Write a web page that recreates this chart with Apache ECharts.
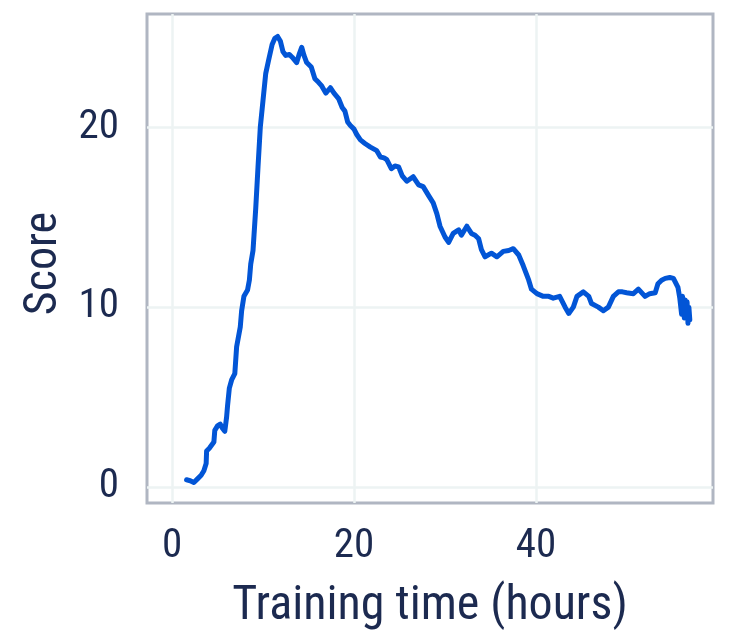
<!DOCTYPE html>
<html>
<head>
<meta charset="utf-8">
<script src="https://cdn.jsdelivr.net/npm/echarts@6/dist/echarts.min.js"></script>
<style>html,body{margin:0;padding:0;background:#fff}#c{width:733px;height:637px}</style>
</head>
<body>
<div id="c"></div>
<script>
const hours = [1.6,2.0,2.4,2.8,3.2,3.5,3.75,3.8,4.1,4.3,4.6,4.7,5.0,5.3,5.5,5.8,6.0,6.1,6.3,6.55,6.9,7.1,7.5,7.65,7.9,8.3,8.5,8.65,8.9,9.2,9.45,9.7,10.0,10.3,10.6,11.0,11.3,11.6,11.9,12.2,12.5,12.9,13.2,13.7,14.0,14.25,14.5,14.8,15.3,15.7,16.1,16.45,16.9,17.4,17.8,18.3,18.7,19.0,19.3,19.6,20.0,20.3,20.7,21.2,21.8,22.5,22.9,23.3,23.6,24.1,24.5,24.9,25.3,25.8,26.5,27.1,27.6,28.2,28.7,29.1,29.45,30.0,30.4,30.9,31.5,31.8,32.4,32.9,33.3,33.7,34.0,34.4,35.1,35.7,36.4,37.0,37.5,38.1,38.6,39.2,39.5,40.1,40.8,41.4,41.9,42.6,43.2,43.6,44.1,44.5,45.2,45.8,46.1,46.85,47.4,47.95,48.5,49.05,49.5,49.96,50.7,51.25,51.98,52.5,53.1,53.4,53.8,54.2,54.7,55.1,55.6,55.8,56.0,56.1,56.3,56.4,56.5,56.6,56.7,56.8,56.9];
const score = [0.4,0.35,0.25,0.45,0.65,0.9,1.3,2.0,2.15,2.1,2.5,3.15,3.4,3.5,3.3,3.1,3.9,4.5,5.5,5.95,6.3,7.8,8.9,9.8,10.6,10.95,11.5,12.4,13.15,15.5,17.8,20.0,21.5,23.0,23.7,24.6,24.95,25.05,24.8,24.2,24.0,24.05,23.9,23.6,24.1,24.45,24.0,23.6,23.35,22.7,22.5,22.3,21.9,22.2,21.9,21.6,21.1,20.9,20.3,20.1,19.9,19.6,19.3,19.1,18.9,18.7,18.35,18.3,18.2,17.7,17.85,17.8,17.3,17.0,17.25,16.8,16.7,16.2,15.8,15.2,14.5,13.9,13.6,14.1,14.3,14.0,14.5,14.1,14.0,13.8,13.2,12.8,13.0,12.8,13.1,13.15,13.25,12.9,12.3,11.5,11.0,10.75,10.6,10.6,10.5,10.6,10.0,9.65,10.0,10.6,10.85,10.6,10.2,10.0,9.8,10.0,10.6,10.85,10.85,10.8,10.75,11.0,10.6,10.75,10.8,11.3,11.5,11.6,11.65,11.6,11.1,10.5,9.6,10.6,9.4,10.4,9.5,10.3,9.1,10.0,9.3];
const xTicks = [0, 20, 40];
const yTicks = [0, 10, 20];
const xName = 'Training time (hours)';
const yName = 'Score';

const FONT = "'Roboto Condensed', 'Liberation Sans Narrow', Roboto, sans-serif";
const TXT = '#1c2a50';
const chart = echarts.init(document.getElementById('c'), null, {renderer: 'canvas'});
chart.setOption({
  animation: false,
  backgroundColor: '#ffffff',
  grid: {left: 147, top: 14, right: 20, bottom: 134, show: true, borderColor: '#b0b6c2', borderWidth: 3, backgroundColor: 'transparent'},
  xAxis: {
    type: 'value', min: -2.75, max: 59.45,
    axisLine: {show: false},
    axisTick: {show: false, customValues: xTicks},
    axisLabel: {customValues: xTicks, color: TXT, fontFamily: FONT, fontSize: 41, margin: 23},
    splitLine: {show: true, lineStyle: {color: '#edf3f3', width: 2.5}},
    name: xName, nameLocation: 'middle', nameGap: 80,
    nameTextStyle: {color: TXT, fontFamily: FONT, fontSize: 48}
  },
  yAxis: {
    type: 'value', min: -0.89, max: 26.3,
    axisLine: {show: false},
    axisTick: {show: false, customValues: yTicks},
    axisLabel: {customValues: yTicks, color: TXT, fontFamily: FONT, fontSize: 41, margin: 28},
    splitLine: {show: true, lineStyle: {color: '#edf3f3', width: 2.5}},
    name: yName, nameLocation: 'middle', nameGap: 76,
    nameTextStyle: {color: TXT, fontFamily: FONT, fontSize: 46, padding: [0, 10, 0, 0]}
  },
  series: [{
    type: 'line', showSymbol: false, symbol: 'none', smooth: false,
    data: hours.map((h, i) => [h, score[i]]),
    lineStyle: {color: '#0255d6', width: 5, cap: 'round', join: 'round'},
    z: 3
  }]
});
</script>
</body>
</html>
